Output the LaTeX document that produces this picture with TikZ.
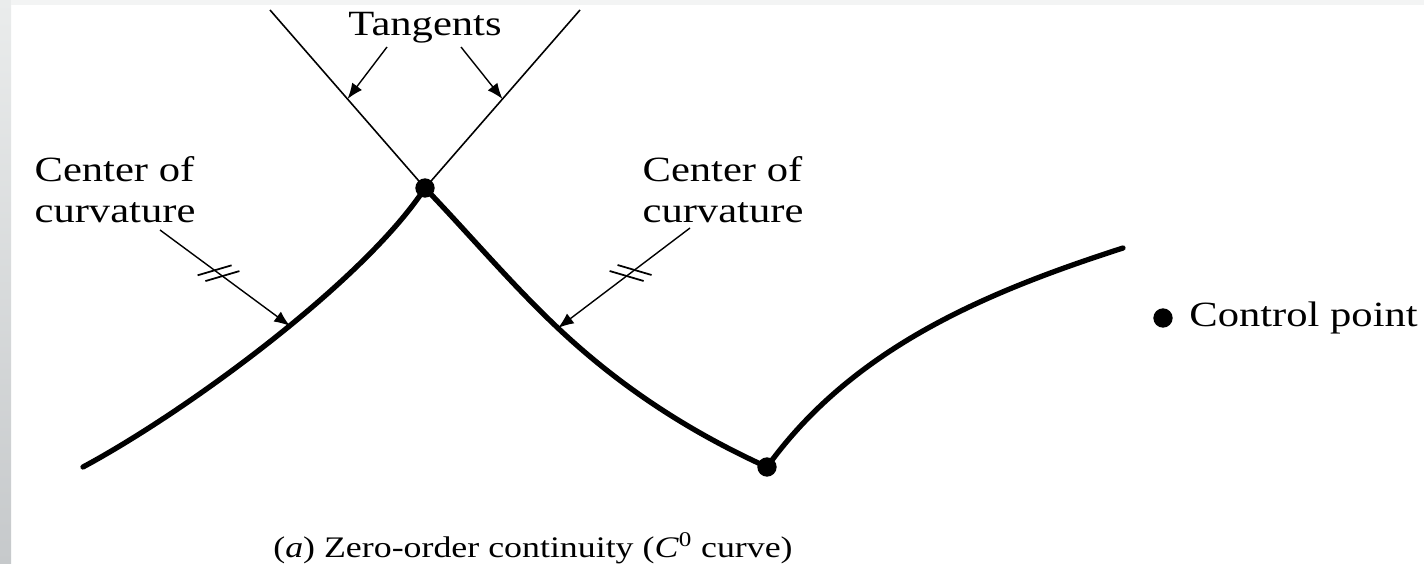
\documentclass[tikz,border=0pt]{standalone}
\usepackage{fontspec}
\setmainfont[FakeStretch=1.2]{Liberation Serif}
\usepackage{xcolor}
\usepackage{tikz}
\usetikzlibrary{arrows.meta,calc,positioning}
\definecolor{figline}{RGB}{0,0,0}
\definecolor{bandtop}{RGB}{234,236,236}
\definecolor{bandbot}{RGB}{198,201,203}
\tikzset{
  crv/.style ={draw=figline, line width=3pt, line cap=round, line join=round},
  tng/.style ={draw=figline, line width=0.9pt},
  ldr/.style ={draw=figline, line width=0.8pt, -{Latex[length=9pt,width=7pt]}},
  brk/.style ={draw=figline, line width=1pt},
  lab/.style ={font=\fontsize{20.2}{23.5}\selectfont, inner sep=0pt, align=left},
  capt/.style ={font=\fontsize{17}{20}\selectfont, inner sep=0pt},
  cpt/.style ={circle, fill=figline, minimum size=11pt, inner sep=0pt},
}

\begin{document}
\begin{tikzpicture}[x=0.02cm,y=-0.02cm]
  \useasboundingbox (0,0) rectangle (1424,564);
  \fill[white] (0,0) rectangle (1424,564);
  \shade[top color=bandtop,bottom color=bandbot] (0,0) rectangle (11,564);
  \fill[bandtop!60!white] (11,0) rectangle (1424,5);
  % control points
  \node[cpt] (cpa) at (425,188) {};
  \node[cpt] (cpb) at (767,467) {};
  \coordinate (ends) at (83,467);
  \coordinate (mids) at (560,330);
  \coordinate (ende) at (1123,248);
  % the three segments
  \draw[crv] (ends) .. controls (189,410) and (365,280) .. (cpa.center);
  \draw[crv] (cpa.center) .. controls (470,235) and (513,286) .. (mids)
                          .. controls (622,388) and (690,432) .. (cpb.center);
  \draw[crv] (cpb.center) .. controls (854,346) and (990,291) .. (ende);
  % tangents
  \coordinate (tanL) at (270,10);
  \coordinate (tanR) at (580,10);
  \draw[tng] (tanL) -- (cpa.center) -- (tanR);
  \node[lab] (tang) at (425,28) {Tangents};
  \coordinate (tfL) at (387,47);
  \coordinate (tfR) at (461,47);
  \draw[ldr] (tfL) -- ($(cpa.center)!0.5!(tanL)$);
  \draw[ldr] (tfR) -- ($(cpa.center)!0.5!(tanR)$);
  % centers of curvature
  \node[lab] (ccl) at (115,190) {Center of\\curvature};
  \coordinate (ccla) at (160,230);
  \coordinate (cclb) at (290,326);
  \draw[ldr] (ccla) -- (cclb);
  \draw[brk] ($(ccla)!0.42!(cclb)$) ++(-17,5) -- ++(34,-10);
  \draw[brk] ($(ccla)!0.48!(cclb)$) ++(-17,5) -- ++(34,-10);
  \node[lab] (ccr) at (723,190) {Center of\\curvature};
  \coordinate (ccra) at (690,228);
  \coordinate (ccrb) at (558,328);
  \draw[ldr] (ccra) -- (ccrb);
  \draw[brk] ($(ccra)!0.42!(ccrb)$) ++(-17,-5) -- ++(34,10);
  \draw[brk] ($(ccra)!0.48!(ccrb)$) ++(-17,-5) -- ++(34,10);
  % legend
  \node[cpt] (leg) at (1163,318) {};
  \node[lab,right=0.32cm of leg] (legt) {Control point};
  \node[capt] (cap) at (533,548) {(\textit{a}) Zero-order continuity (\textit{C}\textsuperscript{0} curve)};
\end{tikzpicture}
\end{document}
